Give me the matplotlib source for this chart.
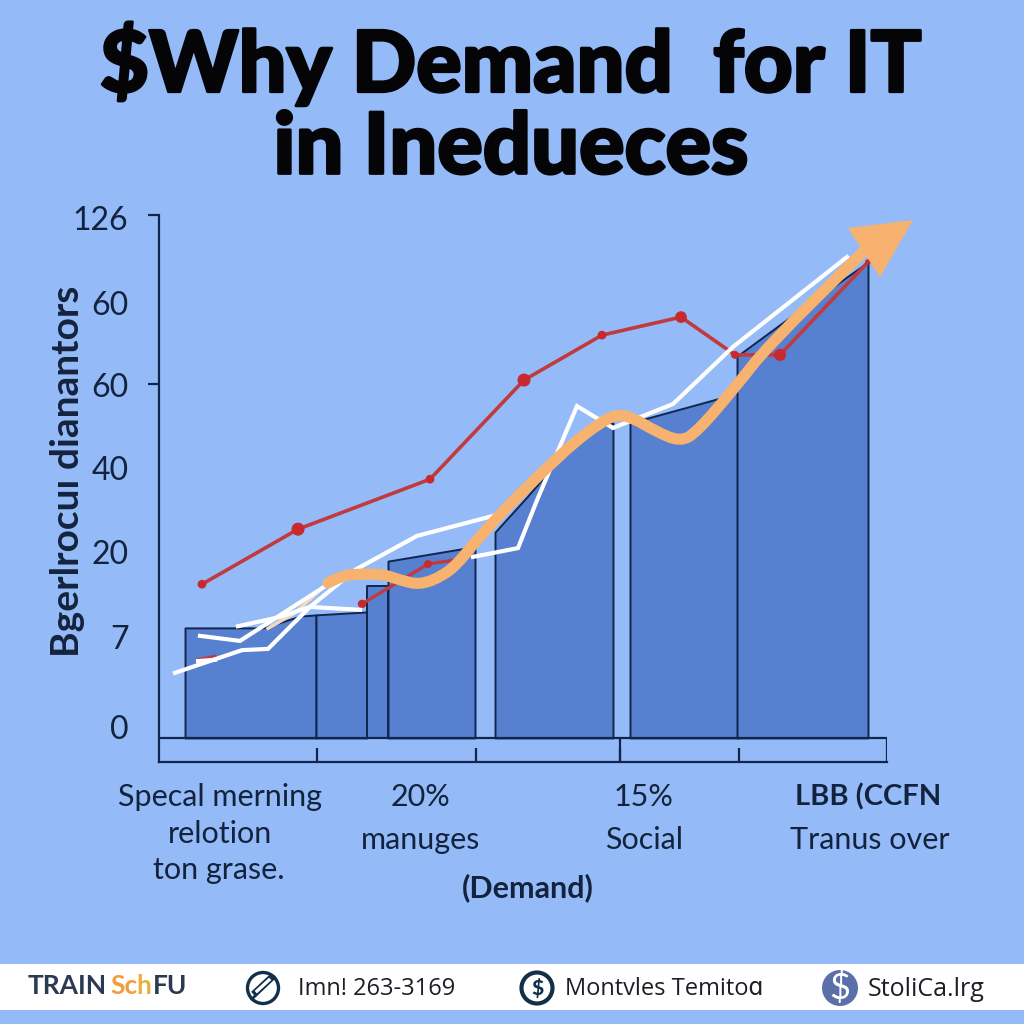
import matplotlib
matplotlib.use('Agg')
import matplotlib.pyplot as plt
import matplotlib.patheffects as pe
from matplotlib.patches import Circle, PathPatch, Rectangle
from matplotlib.path import Path

# x is the position along the axis, y the value
bar_x = [[26, 104, 141, 157], [157, 208], [208, 229], [229, 307, 316],
         [336, 368, 428, 454], [471, 561, 579], [578, 641, 709]]
bar_y = [[23.6, 23.6, 26.4, 26.7], [26.7, 27.4], [33.6, 33.6], [39.5, 42.6, 42.6],
         [46.4, 54.8, 71.4, 72.4], [72.4, 78.3, 80.2], [88.3, 99.3, 110.7]]

red_x = [43, 139, 271, 365, 443, 522, 576, 621, 709]
red_y = [34.0, 47.1, 59.0, 82.6, 93.3, 97.6, 88.6, 88.6, 110.7]
red2_x = [203, 269, 297]
red2_y = [29.3, 38.8, 39.8]
red3_x = [38, 56]
red3_y = [16.0, 16.9]

white_a_x = [16, 83, 109, 151, 184, 196, 258, 338]
white_a_y = [12.9, 18.3, 18.6, 28.6, 35.0, 37.4, 45.5, 50.5]
white_b_x = [41, 81, 168]
white_b_y = [21.7, 20.5, 33.8]
white_c_x = [79, 121, 151, 201]
white_c_y = [24.0, 26.2, 28.6, 27.9]
white_d_x = [39, 56]
white_d_y = [15.7, 16.0]
white_e_x = [314, 359, 378, 418, 454, 514, 574, 688]
white_e_y = [40.5, 42.6, 54.0, 76.4, 71.2, 76.9, 90.5, 111.9]

orange_x = [169, 184, 203, 224, 241, 261, 284, 299, 311, 334, 358, 391, 416, 441,
            458, 474, 496, 521, 538, 578, 608, 704]
orange_y = [34.3, 36.2, 36.4, 36.4, 35.0, 33.8, 36.0, 39.0, 42.6, 48.8, 54.8, 62.4,
            67.9, 72.4, 74.5, 73.6, 70.5, 67.9, 70.2, 81.4, 90.5, 113.1]
tail_x = [109, 135, 169]
tail_y = [23.5, 27.0, 34.3]
head_x = [754, 689, 721]
head_y = [120.7, 118.8, 107.1]

y_ticks = [121.2, 101, 81.4, 61.7, 41.7, 21.4, 0]
y_labels = ['126', '60', '60', '40', '20', '7', '0']
y_marks = [121.9, 81.7, 0]
x_marks = [158, 317, 461, 580]

BG = '#94bbf8'
BAR = '#5880d0'
DARK = '#10264d'
RED = '#c03a3e'
ORANGE = '#f7b26f'
INK = '#14233d'
BASE = -2.6

plt.rcParams['font.family'] = ['Lato', 'DejaVu Sans']

fig = plt.figure(figsize=(10.24, 10.24), dpi=100, facecolor=BG)


def put(px, py, s, **kw):
    kw.setdefault('ha', 'center')
    kw.setdefault('va', 'center')
    kw.setdefault('color', INK)
    return fig.text(px / 1024, 1 - py / 1024, s, parse_math=False, **kw)


def smooth(xs, ys):
    # quadratic pieces through the midpoints, the read points act as controls
    verts = [(xs[0], ys[0])]
    codes = [Path.MOVETO]
    for i in range(1, len(xs) - 1):
        verts += [(xs[i], ys[i]), ((xs[i] + xs[i + 1]) / 2, (ys[i] + ys[i + 1]) / 2)]
        codes += [Path.CURVE3, Path.CURVE3]
    verts.append((xs[-1], ys[-1]))
    codes.append(Path.LINETO)
    return Path(verts, codes)


ax = fig.add_axes([159 / 1024, 262 / 1024, 728 / 1024, 547 / 1024], facecolor='none')
ax.set_xlim(0, 728)
ax.set_ylim(-8.33, 121.9)

for xs, ys in zip(bar_x, bar_y):
    ax.fill_between(xs, ys, BASE, facecolor=BAR, edgecolor=DARK, lw=1.4, zorder=2)

ax.hlines(BASE, 0, 728, color=DARK, lw=1.6, zorder=3)
ax.vlines([461, 728], -8.33, BASE, color=DARK, lw=1.6, zorder=3)

ax.plot(red3_x, red3_y, color=RED, lw=2, zorder=3)
ax.plot(red_x, red_y, color=RED, lw=2.6, zorder=4, clip_on=False)
ax.scatter(red_x, red_y, s=[28, 70, 28, 70, 28, 55, 22, 60, 10], color='#c8292f', zorder=4)
ax.plot(red2_x, red2_y, color=RED, lw=2.4, zorder=4)
ax.scatter(red2_x[:2], red2_y[:2], s=[26, 22], color='#c8292f', zorder=4)

ax.plot(tail_x, tail_y, color='#f3d9bd', lw=2.4, zorder=4.5)
for wx, wy in [(white_a_x, white_a_y), (white_b_x, white_b_y), (white_c_x, white_c_y),
               (white_d_x, white_d_y), (white_e_x, white_e_y)]:
    ax.plot(wx, wy, color='white', lw=3, zorder=5, solid_joinstyle='miter')

ax.add_patch(PathPatch(smooth(orange_x, orange_y), fc='none', ec=ORANGE, lw=8, zorder=6,
                       capstyle='round', joinstyle='round'))
ax.fill(head_x, head_y, color=ORANGE, lw=0, zorder=6, clip_on=False)

ax.spines['top'].set_visible(False)
ax.spines['right'].set_visible(False)
for side in ['left', 'bottom']:
    ax.spines[side].set_color(DARK)
    ax.spines[side].set_linewidth(1.6)

ax.set_xticks(x_marks)
ax.tick_params(axis='x', direction='in', length=10, width=1.6, color=DARK, labelbottom=False)
ax.set_yticks(y_ticks)
ax.set_yticklabels(y_labels, fontsize=23, color=INK)
ax.tick_params(axis='y', length=0, pad=22)
ax.set_yticks(y_marks, minor=True)
ax.tick_params(axis='y', which='minor', length=8, width=1.6, color=DARK)

heavy = [pe.withStroke(linewidth=2, foreground='#050508')]
put(511, 64, '$Why Demand  for IT', fontsize=61, fontweight='black', color='#050508',
    path_effects=heavy)
put(511, 149, 'in Inedueces', fontsize=61, fontweight='black', color='#050508',
    path_effects=heavy)
put(68, 471, 'Bgerlrocuı dianantors', fontsize=28, fontweight='bold', rotation=90)

put(220, 797, 'Specal merning', fontsize=22)
put(220, 834, 'relotion', fontsize=22)
put(219, 870, 'ton grase.', fontsize=22)
put(421, 797, '20%', fontsize=22)
put(421, 840, 'manuges', fontsize=22)
put(643, 797, '15%', fontsize=22)
put(644, 840, 'Social', fontsize=22)
put(868, 797, 'LBB (CCFN', fontsize=21, fontweight='bold')
put(870, 840, 'Tranus over', fontsize=22)
put(528, 888, '(Demand)', fontsize=22, fontweight='bold')

# footer strip, drawn on a full figure axes in pixels
ov = fig.add_axes([0, 0, 1, 1], facecolor='none', zorder=-1)
ov.set_xlim(0, 1024)
ov.set_ylim(1024, 0)
ov.axis('off')
ov.add_patch(Rectangle((0, 964), 1024, 46, color='white', lw=0))
ov.add_patch(Circle((263, 988), 15.5, fc='white', ec='#12304a', lw=2.4))
ov.plot([252, 274], [999, 977], color='#12304a', lw=2)
ov.plot([256, 270], [992, 979], color='#12304a', lw=5)
ov.plot([257, 269], [991, 980], color='white', lw=2.4)
ov.add_patch(Circle((537, 988), 15.5, fc='white', ec='#12304a', lw=3))
ov.add_patch(Circle((840, 988), 18, fc='#5b70a8', ec='none'))

put(537, 988, '$', fontsize=15, fontweight='black', color='#12304a')
put(840, 988, '$', fontsize=26, color='white')
put(28, 986, 'TRAIN', fontsize=19, ha='left', fontweight='bold', color='#2a3a52')
put(110, 986, 'Sc', fontsize=19, ha='left', fontweight='bold', color='#ef9f3f')
put(136, 986, 'h', fontsize=19, ha='left', fontweight='bold', color='#e8b23a')
put(153, 986, 'FU', fontsize=19, ha='left', fontweight='bold', color='#2a3a52')
foot = ['Open Sans', 'DejaVu Sans']
put(298, 989, 'Imn! 263-3169', fontsize=17, ha='left', family=foot, color='#1c1f26')
put(565, 989, 'Montvles Temitoɑ', fontsize=17, ha='left', family=foot, color='#1c1f26')
put(868, 990, 'StoliCa.lrg', fontsize=18, ha='left', family=foot, color='#1c1f26')

fig.savefig('out.png', dpi=100, facecolor=BG)
